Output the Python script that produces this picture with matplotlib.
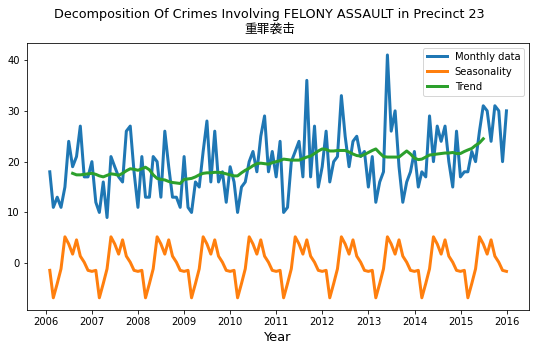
import matplotlib

matplotlib.use("Agg")
import matplotlib.pyplot as plt
import pandas as pd

plt.rcParams["font.family"] = ["DejaVu Sans", "Noto Sans CJK SC"]

TITLE = "Decomposition Of Crimes Involving FELONY ASSAULT in Precinct 23\n重罪袭击"

# monthly counts, Jan 2006 .. Dec 2015
monthly = [
    18, 11, 13, 11, 15, 24, 19, 21, 27, 17, 17, 20,
    12, 10, 16, 9, 21, 19, 17, 16, 26, 27, 18, 11,
    21, 13, 13, 21, 20, 13, 26, 19, 13, 13, 11, 21,
    11, 10, 16, 15, 22, 28, 16, 26, 16, 18, 12, 19,
    16, 10, 15, 16, 20, 22, 18, 25, 29, 18, 22, 17,
    24, 10, 11, 20, 22, 24, 17, 36, 17, 27, 15, 19,
    26, 16, 20, 21, 33, 25, 19, 24, 25, 21, 22, 15,
    21, 12, 16, 18, 41, 26, 30, 19, 12, 16, 18, 22,
    15, 18, 17, 29, 20, 27, 24, 27, 20, 15, 26, 17,
    18, 18, 22, 20, 26, 31, 30, 24, 31, 30, 20, 30,
]

seasonal = [
    -1.4, -6.8, -4.0, -1.1, 5.2, 3.8, 1.8, 4.6, 1.4, 0.2, -1.4, -1.6,
    -1.4, -6.8, -4.0, -1.1, 5.2, 3.8, 1.8, 4.6, 1.4, 0.2, -1.4, -1.6,
    -1.4, -6.8, -4.0, -1.1, 5.2, 3.8, 1.8, 4.6, 1.4, 0.2, -1.4, -1.6,
    -1.4, -6.8, -4.0, -1.1, 5.2, 3.8, 1.8, 4.6, 1.4, 0.2, -1.4, -1.6,
    -1.4, -6.8, -4.0, -1.1, 5.2, 3.8, 1.8, 4.6, 1.4, 0.2, -1.4, -1.6,
    -1.4, -6.8, -4.0, -1.1, 5.2, 3.8, 1.8, 4.6, 1.4, 0.2, -1.4, -1.6,
    -1.4, -6.8, -4.0, -1.1, 5.2, 3.8, 1.8, 4.6, 1.4, 0.2, -1.4, -1.6,
    -1.4, -6.8, -4.0, -1.1, 5.2, 3.8, 1.8, 4.6, 1.4, 0.2, -1.4, -1.6,
    -1.4, -6.8, -4.0, -1.1, 5.2, 3.8, 1.8, 4.6, 1.4, 0.2, -1.4, -1.6,
    -1.4, -6.8, -4.0, -1.1, 5.2, 3.8, 1.8, 4.6, 1.4, 0.2, -1.4, -1.6,
]

# centred 12-month trend, Jul 2006 .. Jun 2015
trend = [
    17.7, 17.4, 17.4, 17.5, 17.6, 17.7,
    17.5, 17.2, 17.0, 17.3, 17.6, 17.5, 17.3, 17.7, 18.2, 18.6, 18.5, 18.3,
    18.6, 18.9, 18.4, 17.4, 16.7, 16.5, 16.4, 16.1, 15.9, 15.8, 15.7, 16.5,
    16.6, 16.7, 17.0, 17.4, 17.7, 17.8, 17.8, 17.9, 17.9, 17.8, 17.6, 17.4,
    17.2, 17.2, 17.8, 18.3, 18.7, 19.2, 19.6, 19.7, 19.6, 19.5, 19.8, 20.0,
    20.2, 20.5, 20.4, 20.3, 20.3, 20.3, 20.6, 20.9, 21.1, 21.6, 22.1, 22.5,
    22.4, 22.1, 22.1, 22.2, 22.2, 22.2, 21.9, 21.5, 21.2, 21.1, 21.4, 21.8,
    22.2, 22.5, 21.7, 21.0, 20.9, 20.9, 20.9, 20.9, 21.5, 22.1, 21.5, 20.7,
    20.4, 20.5, 20.9, 21.3, 21.4, 21.5, 21.6, 21.7, 21.7, 21.8, 21.6, 21.6,
    22.0, 22.3, 22.6, 23.2, 23.7, 24.5,
]

dates = pd.date_range("2006-01-31", periods=len(monthly), freq="ME")
trend_dates = pd.date_range("2006-07-31", periods=len(trend), freq="ME")

fig = plt.figure(figsize=(539 / 72, 351 / 72), dpi=72)
ax = fig.add_axes([0.050, 0.117, 0.932, 0.761])

ax.plot(dates, monthly, lw=3, label="Monthly data")
ax.plot(dates, seasonal, lw=3, label="Seasonality")
ax.plot(trend_dates, trend, lw=3, label="Trend")

ax.set_xlabel("Year", fontsize=13)
ax.legend(loc="upper right")
fig.suptitle(TITLE, fontsize=12.7, y=0.978)

fig.savefig("out.png", dpi=72)
